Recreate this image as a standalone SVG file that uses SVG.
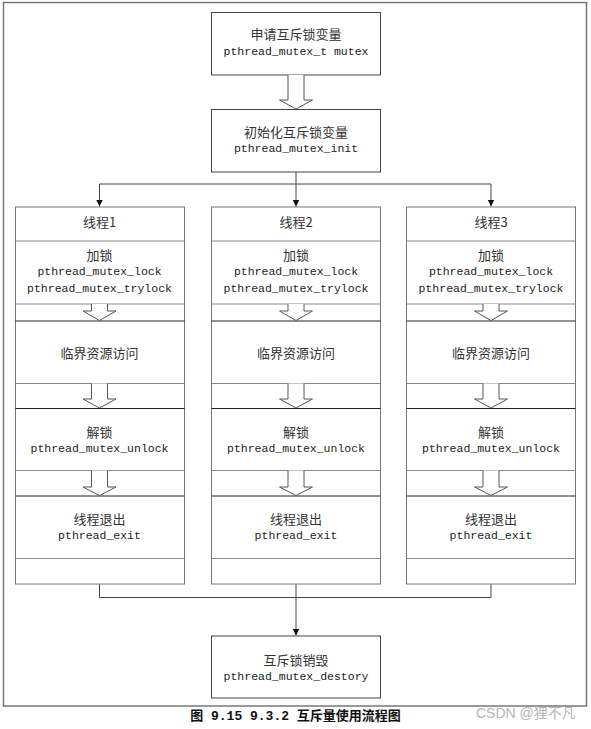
<svg xmlns="http://www.w3.org/2000/svg" width="591" height="729" viewBox="0 0 591 729">
<defs>
<style>
.frame{fill:#fff;stroke:#777;stroke-width:1.5}
.box{fill:#fff;stroke:#444;stroke-width:1}
.col{fill:#fff;stroke:#777;stroke-width:1}
.div{stroke:#888;stroke-width:1;fill:none}
.dk{stroke:#222;stroke-width:1;fill:none}
.blk{fill:#fff;stroke:#555;stroke-width:1}
.conn{fill:none;stroke:#444;stroke-width:1}
.cn{font-family:"Noto Sans CJK SC","Liberation Sans",sans-serif;font-size:13px;fill:#333;text-anchor:middle;dominant-baseline:central}
.code{font-family:"Liberation Mono","DejaVu Sans Mono",monospace;font-size:11.5px;fill:#222;text-anchor:middle;dominant-baseline:central}
.cap{font-family:"Liberation Mono","Noto Sans CJK SC",monospace;font-size:13px;font-weight:bold;fill:#111;text-anchor:middle}
.wm{font-family:"Liberation Sans","Noto Sans CJK SC",sans-serif;font-size:14px;fill:#b5b5b5}
</style>
<marker id="ah" markerUnits="userSpaceOnUse" markerWidth="8" markerHeight="8" refX="7" refY="3.5" orient="auto">
<path d="M0,0 L7,3.5 L0,7 z" fill="#111"/>
</marker>
</defs>
<rect class="frame" x="3.5" y="2.5" width="583" height="703.5"/>

<g id="n-declare">
<rect class="box" x="211.5" y="12.5" width="169" height="62.5"/>
<text class="cn" x="296" y="33.5">申请互斥锁变量</text>
<text class="code" x="296" y="51.5">pthread_mutex_t mutex</text>
</g>
<path class="blk" d="M288,75 V100 H279.5 L296,109 L312.5,100 H304 V75"/>
<g id="n-init">
<rect class="box" x="211.5" y="109.5" width="169" height="62.5"/>
<text class="cn" x="296" y="131.5">初始化互斥锁变量</text>
<text class="code" x="296" y="148.5">pthread_mutex_init</text>
</g>

<g id="connectors">
<path class="conn" d="M296,172 V184"/>
<path class="conn" d="M99.5,184 H491"/>
<path class="conn" d="M99.5,184 V206.5" marker-end="url(#ah)"/>
<path class="conn" d="M296,184 V206.5" marker-end="url(#ah)"/>
<path class="conn" d="M491,184 V206.5" marker-end="url(#ah)"/>
<path class="conn" d="M99.5,584 V597.5 H491 V584"/>
<path class="conn" d="M296,584 V635.5" marker-end="url(#ah)"/>
</g>

<g id="thread1">
<rect class="col" x="15.5" y="207" width="169" height="377"/>
<line class="div" x1="15.5" y1="241" x2="184.5" y2="241"/>
<line class="div" x1="15.5" y1="304" x2="184.5" y2="304"/>
<line class="dk" x1="15.5" y1="321" x2="184.5" y2="321"/>
<line class="div" x1="15.5" y1="383.5" x2="184.5" y2="383.5"/>
<line class="dk" x1="15.5" y1="408.5" x2="184.5" y2="408.5"/>
<line class="div" x1="15.5" y1="470.5" x2="184.5" y2="470.5"/>
<line class="dk" x1="15.5" y1="496" x2="184.5" y2="496"/>
<line class="div" x1="15.5" y1="558.5" x2="184.5" y2="558.5"/>
<path class="blk" d="M91.5,304 V311 H83 L99.5,320.5 L116,311 H107.5 V304"/>
<path class="blk" d="M91.5,383.5 V399 H83 L99.5,408 L116,399 H107.5 V383.5"/>
<path class="blk" d="M91.5,470.5 V487 H83 L99.5,495.5 L116,487 H107.5 V470.5"/>
<text class="cn" x="99.5" y="221">线程1</text>
<text class="cn" x="99.5" y="254">加锁</text>
<text class="code" x="99.5" y="271.5">pthread_mutex_lock</text>
<text class="code" x="99.5" y="288.5">pthread_mutex_trylock</text>
<text class="cn" x="99.5" y="352.5">临界资源访问</text>
<text class="cn" x="99.5" y="431">解锁</text>
<text class="code" x="99.5" y="448.5">pthread_mutex_unlock</text>
<text class="cn" x="99.5" y="518.5">线程退出</text>
<text class="code" x="99.5" y="535">pthread_exit</text>
</g>

<g id="thread2">
<rect class="col" x="211.5" y="207" width="169" height="377"/>
<line class="div" x1="211.5" y1="241" x2="380.5" y2="241"/>
<line class="div" x1="211.5" y1="304" x2="380.5" y2="304"/>
<line class="dk" x1="211.5" y1="321" x2="380.5" y2="321"/>
<line class="div" x1="211.5" y1="383.5" x2="380.5" y2="383.5"/>
<line class="dk" x1="211.5" y1="408.5" x2="380.5" y2="408.5"/>
<line class="div" x1="211.5" y1="470.5" x2="380.5" y2="470.5"/>
<line class="dk" x1="211.5" y1="496" x2="380.5" y2="496"/>
<line class="div" x1="211.5" y1="558.5" x2="380.5" y2="558.5"/>
<path class="blk" d="M288,304 V311 H279.5 L296,320.5 L312.5,311 H304 V304"/>
<path class="blk" d="M288,383.5 V399 H279.5 L296,408 L312.5,399 H304 V383.5"/>
<path class="blk" d="M288,470.5 V487 H279.5 L296,495.5 L312.5,487 H304 V470.5"/>
<text class="cn" x="296" y="221">线程2</text>
<text class="cn" x="296" y="254">加锁</text>
<text class="code" x="296" y="271.5">pthread_mutex_lock</text>
<text class="code" x="296" y="288.5">pthread_mutex_trylock</text>
<text class="cn" x="296" y="352.5">临界资源访问</text>
<text class="cn" x="296" y="431">解锁</text>
<text class="code" x="296" y="448.5">pthread_mutex_unlock</text>
<text class="cn" x="296" y="518.5">线程退出</text>
<text class="code" x="296" y="535">pthread_exit</text>
</g>

<g id="thread3">
<rect class="col" x="406.5" y="207" width="169" height="377"/>
<line class="div" x1="406.5" y1="241" x2="575.5" y2="241"/>
<line class="div" x1="406.5" y1="304" x2="575.5" y2="304"/>
<line class="dk" x1="406.5" y1="321" x2="575.5" y2="321"/>
<line class="div" x1="406.5" y1="383.5" x2="575.5" y2="383.5"/>
<line class="dk" x1="406.5" y1="408.5" x2="575.5" y2="408.5"/>
<line class="div" x1="406.5" y1="470.5" x2="575.5" y2="470.5"/>
<line class="dk" x1="406.5" y1="496" x2="575.5" y2="496"/>
<line class="div" x1="406.5" y1="558.5" x2="575.5" y2="558.5"/>
<path class="blk" d="M483,304 V311 H474.5 L491,320.5 L507.5,311 H499 V304"/>
<path class="blk" d="M483,383.5 V399 H474.5 L491,408 L507.5,399 H499 V383.5"/>
<path class="blk" d="M483,470.5 V487 H474.5 L491,495.5 L507.5,487 H499 V470.5"/>
<text class="cn" x="491" y="221">线程3</text>
<text class="cn" x="491" y="254">加锁</text>
<text class="code" x="491" y="271.5">pthread_mutex_lock</text>
<text class="code" x="491" y="288.5">pthread_mutex_trylock</text>
<text class="cn" x="491" y="352.5">临界资源访问</text>
<text class="cn" x="491" y="431">解锁</text>
<text class="code" x="491" y="448.5">pthread_mutex_unlock</text>
<text class="cn" x="491" y="518.5">线程退出</text>
<text class="code" x="491" y="535">pthread_exit</text>
</g>

<g id="n-destroy">
<rect class="box" x="211.5" y="636" width="169" height="62"/>
<text class="cn" x="296" y="659">互斥锁销毁</text>
<text class="code" x="296" y="676">pthread_mutex_destory</text>
</g>

<text class="cap" x="295.5" y="720">图 9.15 9.3.2 互斥量使用流程图</text>
<text class="wm" x="476" y="718">CSDN @狸不凡</text>
</svg>
